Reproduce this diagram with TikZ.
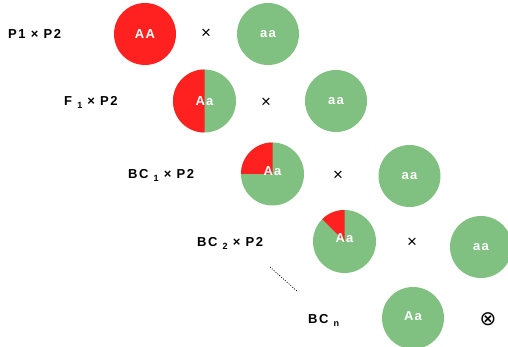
\documentclass[tikz,border=0pt]{standalone}
\usepackage{fontspec}
\setmainfont{Liberation Sans}
\newfontfamily\spacedfont[LetterSpace=10]{Liberation Sans}
\newfontfamily\lblfont[LetterSpace=12]{Liberation Sans}
\newfontfamily\symfont{DejaVu Sans}
\definecolor{aared}{HTML}{FF2020}
\definecolor{aagreen}{HTML}{80C080}
\newcommand{\subsc}[1]{\raisebox{-3pt}{\fontsize{9}{10}\selectfont #1}}
\begin{document}
\begin{tikzpicture}[x=1pt,y=-1pt,
  lbl/.style={font=\lblfont\bfseries\fontsize{13}{15}\selectfont, anchor=west, inner sep=0},
  gtext/.style={font=\spacedfont\bfseries\fontsize{13}{15}\selectfont, text=white, inner sep=0},
  cross/.style={font=\fontsize{17}{19}\selectfont, inner sep=0},
  plant/.style={circle, minimum size=62pt, inner sep=0}]
\useasboundingbox (0,0) rectangle (508,347);
% row 1
\node[lbl] (l1) at (8,34) {P1 × P2};
\node[plant, fill=aared] (p1) at (145,34) {};
\node[gtext] (t1) at (p1) {AA};
\node[cross] (x1) at (206,34) {×};
\node[plant, fill=aagreen] (g1) at (268,34) {};
\node[gtext] (tg1) at (g1) {aa};
% row 2
\node[lbl] (l2) at (64,102) {F \subsc{1} × P2};
\node[plant] (p2) at (204.5,101) {};
\fill[aagreen] (p2.center) circle[radius=31.5];
\fill[aared] (p2.center) -- ++(0,-31.5) arc[start angle=-90,end angle=-270,radius=31.5] -- cycle;
\node[gtext] (t2) at (p2) {Aa};
\node[cross] (x2) at (266,103) {×};
\node[plant, fill=aagreen] (g2) at (336,101) {};
\node[gtext] (tg2) at (g2) {aa};
% row 3
\node[lbl] (l3) at (128,175) {BC \subsc{1} × P2};
\node[plant] (p3) at (272.5,174) {};
\fill[aagreen] (p3.center) circle[radius=31.5];
\fill[aared] (p3.center) -- ++(0,-31.5) arc[start angle=-90,end angle=-180,radius=31.5] -- cycle;
\node[gtext] (t3) at ([yshift=3]p3.center) {Aa};
\node[cross] (x3) at (338,176) {×};
\node[plant, fill=aagreen] (g3) at (409.5,176) {};
\node[gtext] (tg3) at (g3) {aa};
% row 4
\node[lbl] (l4) at (197,243) {BC \subsc{2} × P2};
\node[plant] (p4) at (344.5,241.5) {};
\fill[aagreen] (p4.center) circle[radius=31.5];
\fill[aared] (p4.center) -- ++(0,-31.5) arc[start angle=-90,end angle=-135,radius=31.5] -- cycle;
\node[gtext] (t4) at ([yshift=3]p4.center) {Aa};
\node[cross] (x4) at (412,243) {×};
\node[plant, fill=aagreen] (g4) at (481,247) {};
\node[gtext] (tg4) at (g4) {aa};
% dotted
\coordinate (d1) at (270,267);
\coordinate (d2) at (298,292);
\draw[dash pattern=on 1pt off 1.5pt, line width=0.7pt] (d1) -- (d2);
% row 5
\node[lbl] (l5) at (308,320) {BC \subsc{n}};
\node[plant, fill=aagreen] (p5) at (413,318) {};
\node[gtext] (t5) at ([yshift=2]p5.center) {Aa};
\node[inner sep=0, font=\symfont\fontsize{20}{22}\selectfont] (x5) at (488,319) {⊗};
\end{tikzpicture}
\end{document}
